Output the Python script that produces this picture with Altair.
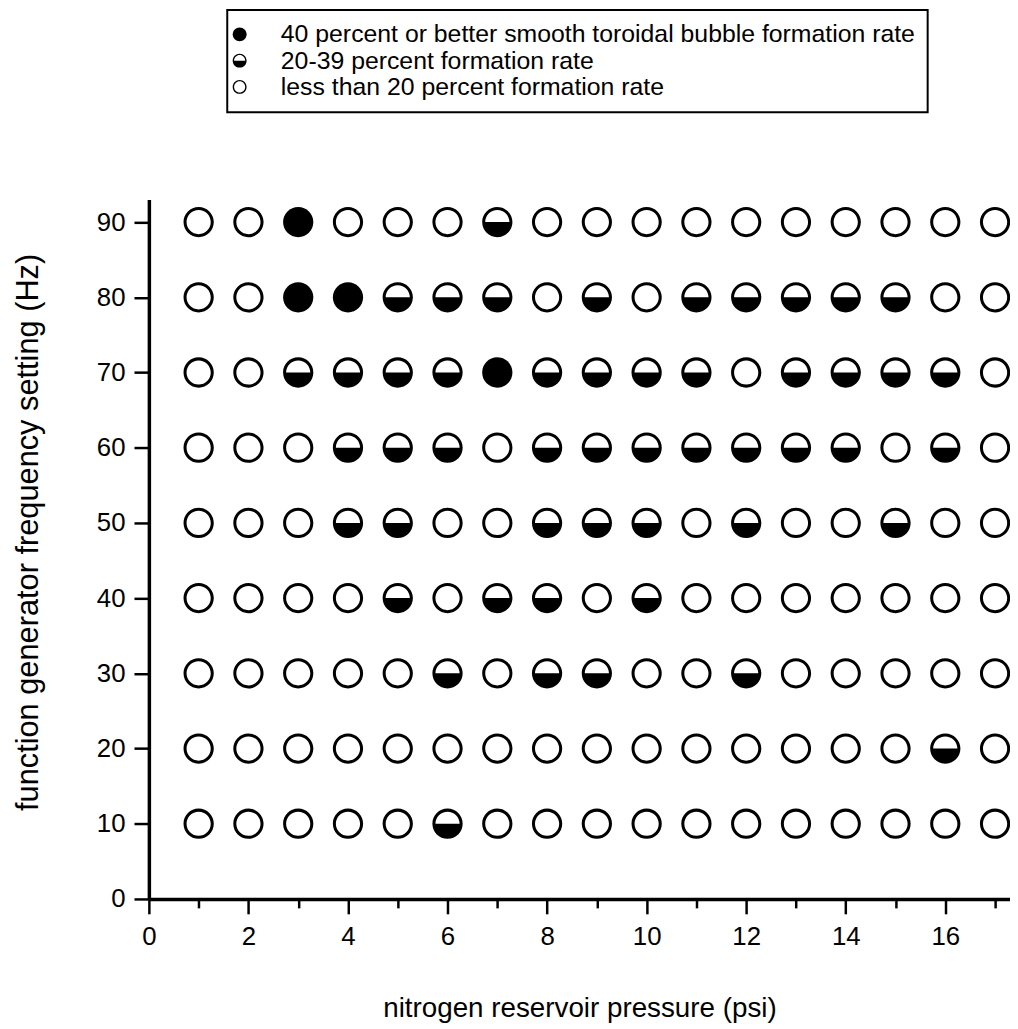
import altair as alt
import pandas as pd

# nitrogen reservoir pressure (psi) columns and frequency (Hz) rows
pressure_psi = [1, 2, 3, 4, 5, 6, 7, 8, 9, 10, 11, 12, 13, 14, 15, 16, 17]
frequency_hz = [90, 80, 70, 60, 50, 40, 30, 20, 10]

# formation-rate class per cell: 2 = 40%+, 1 = 20-39%, 0 = <20%
rate_90 = [0, 0, 2, 0, 0, 0, 1, 0, 0, 0, 0, 0, 0, 0, 0, 0, 0]
rate_80 = [0, 0, 2, 2, 1, 1, 1, 0, 1, 0, 1, 1, 1, 1, 1, 0, 0]
rate_70 = [0, 0, 1, 1, 1, 1, 2, 1, 1, 1, 1, 0, 1, 1, 1, 1, 0]
rate_60 = [0, 0, 0, 1, 1, 1, 0, 1, 1, 1, 1, 1, 1, 1, 0, 1, 0]
rate_50 = [0, 0, 0, 1, 1, 0, 0, 1, 1, 1, 0, 1, 0, 0, 1, 0, 0]
rate_40 = [0, 0, 0, 0, 1, 0, 1, 1, 0, 1, 0, 0, 0, 0, 0, 0, 0]
rate_30 = [0, 0, 0, 0, 0, 1, 0, 1, 1, 0, 0, 1, 0, 0, 0, 0, 0]
rate_20 = [0, 0, 0, 0, 0, 0, 0, 0, 0, 0, 0, 0, 0, 0, 0, 1, 0]
rate_10 = [0, 0, 0, 0, 0, 1, 0, 0, 0, 0, 0, 0, 0, 0, 0, 0, 0]

rows = [rate_90, rate_80, rate_70, rate_60, rate_50, rate_40, rate_30, rate_20, rate_10]

class_labels = [
    "less than 20 percent formation rate",
    "20-39 percent formation rate",
    "40 percent or better smooth toroidal bubble formation rate",
]
legend_order = [class_labels[2], class_labels[1], class_labels[0]]

records = []
for freq, row in zip(frequency_hz, rows):
    for p, r in zip(pressure_psi, row):
        records.append({"pressure": p, "frequency": freq, "rate": class_labels[r]})
df = pd.DataFrame(records)

# marker shapes (single filled paths)
full_path = "M-1,0A1,1,0,1,1,1,0A1,1,0,1,1,-1,0Z"
ring_path = full_path + " M-0.8,0A0.8,0.8,0,1,0,0.8,0A0.8,0.8,0,1,0,-0.8,0Z"
half_path = full_path + " M0.8,0A0.8,0.8,0,0,0,-0.8,0Z"

FONT = "Liberation Sans"

x_axis = alt.Axis(
    values=list(range(0, 18)),
    labelExpr="datum.value % 2 === 0 ? datum.label : ''",
    tickSize=alt.ExprRef(expr="datum.value % 2 === 0 ? 15 : 9"),
    title="nitrogen reservoir pressure (psi)",
    titleFontSize=28,
    titlePadding=46,
    titleFont=FONT,
    titleFontWeight="normal",
    titleColor="black",
    labelFontSize=26,
    labelFont=FONT,
    labelColor="black",
    labelPadding=10,
    labelFlush=False,
    labelOverlap=False,
    domainWidth=3.5,
    domainColor="black",
    tickWidth=2.5,
    tickColor="black",
    grid=False,
)

y_axis = alt.Axis(
    values=[0, 10, 20, 30, 40, 50, 60, 70, 80, 90],
    tickSize=15,
    title="function generator frequency setting (Hz)",
    titleFontSize=31,
    titlePadding=52,
    titleY=335,
    titleFont=FONT,
    titleFontWeight="normal",
    titleColor="black",
    labelFontSize=26,
    labelFont=FONT,
    labelColor="black",
    labelPadding=9,
    labelOverlap=False,
    domainWidth=3.5,
    domainColor="black",
    tickWidth=2.5,
    tickColor="black",
    grid=False,
)

legend = alt.Legend(
    title=None,
    orient="none",
    legendX=79,
    legendY=-191,
    labelFontSize=25,
    labelFont=FONT,
    labelColor="black",
    labelLimit=0,
    symbolSize=196,
    symbolOffset=-12,
    symbolFillColor="black",
    symbolStrokeWidth=0,
    labelOffset=29,
    padding=12,
    rowPadding=0.5,
    strokeColor="black",
)

chart = (
    alt.Chart(df)
    .mark_point(filled=True, size=930, color="black", opacity=1, strokeWidth=0)
    .encode(
        x=alt.X("pressure:Q", scale=alt.Scale(domain=[0, 17.3], nice=False, zero=False), axis=x_axis),
        y=alt.Y("frequency:Q", scale=alt.Scale(domain=[0, 93], nice=False), axis=y_axis),
        shape=alt.Shape(
            "rate:N",
            scale=alt.Scale(domain=legend_order, range=[full_path, half_path, ring_path]),
            legend=legend,
        ),
    )
    .properties(
        width=868,
        height=705,
        padding={"left": 142, "top": 189, "right": 0, "bottom": 122},
        autosize=alt.AutoSizeParams(type="none"),
    )
    .configure_view(stroke=None)
    .configure_legend(strokeWidth=2)
)

chart.save("out.html", embed_options={"renderer": "svg", "actions": False})
